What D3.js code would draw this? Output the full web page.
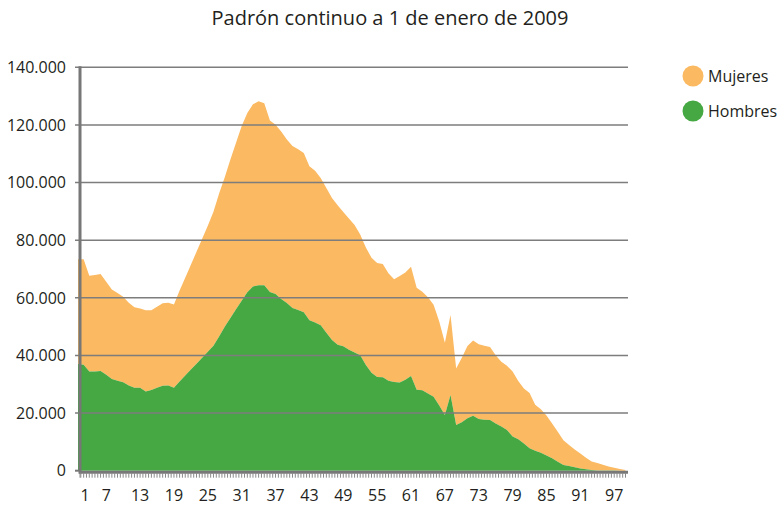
<!DOCTYPE html>
<html>
<head>
<meta charset="utf-8">
<script src="https://cdn.jsdelivr.net/npm/d3@7"></script>
<style>
  body { margin: 0; background: #fff; }
  svg { display: block; font-family: "Open Sans", sans-serif; }
</style>
</head>
<body>
<svg id="chart" width="780" height="505"></svg>
<script>
// Edades (una por punto del área)
const edades = d3.range(2, 100)

// Población en miles
const hombres = [
  37.0, 36.8, 34.4, 34.4, 34.6, 33.3, 31.8, 31.2, 30.7, 29.6,
  28.8, 28.8, 27.5, 28.0, 28.8, 29.5, 29.6, 28.8, 31.0, 33.0,
  35.1, 37.1, 39.2, 41.3, 43.4, 46.6, 50.0, 53.0, 56.0, 59.0,
  61.9, 63.9, 64.4, 64.4, 62.0, 61.3, 59.6, 58.2, 56.5, 55.8,
  55.0, 52.2, 51.4, 50.5, 47.9, 45.4, 43.7, 43.2, 42.0, 41.0,
  40.1, 36.7, 34.0, 32.5, 32.4, 31.2, 30.8, 30.6, 31.6, 32.9,
  28.1, 27.9, 26.8, 25.7, 22.6, 19.3, 26.3, 15.9, 16.8, 18.2,
  19.1, 17.9, 17.7, 17.6, 16.4, 15.3, 14.1, 11.9, 10.9, 9.4,
  7.8, 6.9, 6.2, 5.3, 4.3, 3.1, 2.0, 1.6, 1.2, 0.8,
  0.5, 0.2, 0.1, 0.1, 0.05, 0.03, 0.02, 0
]

const mujeres = [
  36.4, 36.6, 33.3, 33.5, 33.7, 32.3, 31.1, 30.5, 29.7, 28.7,
  27.9, 27.5, 28.2, 27.7, 28.1, 28.6, 28.7, 28.9, 31.5, 34.0,
  36.4, 38.9, 41.3, 43.7, 46.5, 49.6, 51.8, 55.0, 57.8, 60.6,
  62.2, 63.3, 63.8, 63.1, 59.5, 58.8, 58.1, 56.7, 56.2, 55.8,
  55.3, 53.5, 52.7, 51.1, 50.2, 49.2, 48.4, 46.6, 45.5, 44.3,
  41.9, 40.8, 39.9, 39.6, 39.3, 37.3, 35.6, 37.0, 37.2, 37.9,
  35.4, 34.2, 33.4, 31.9, 29.2, 25.1, 27.7, 19.6, 22.4, 25.1,
  26.1, 26.0, 25.7, 25.3, 23.7, 22.5, 22.3, 22.5, 20.2, 19.1,
  19.2, 16.0, 15.1, 13.9, 12.1, 10.4, 8.6, 7.3, 6.2, 5.2,
  4.0, 3.0, 2.6, 2.0, 1.45, 0.97, 0.58, 0.2
]

const etiquetasX = d3.range(1, 98, 6)
const ticksY = [0, 20, 40, 60, 80, 100, 120, 140]

const series = ['Hombres', 'Mujeres']
const colores = {'Hombres': '#45a843', 'Mujeres': '#fbb961'}
const titulo = 'Padrón continuo a 1 de enero de 2009'

let tabla = edades.map(function(e, i){
  return {'edad': e, 'Hombres': hombres[i], 'Mujeres': mujeres[i]}
})

let svg = d3.select('#chart')

let plotLeft = 80, plotRight = 628, plotTop = 67.3, plotBottom = 470.7

let x = d3.scaleLinear()
  .domain([2, 99])
  .range([78, 625.5])

let y = d3.scaleLinear()
  .domain([0, 140])
  .range([plotBottom, plotTop])

let es = d3.formatLocale({'decimal': ',', 'thousands': '.', 'grouping': [3], 'currency': ['', '€']})
let fmt = es.format(',.0f')

let stack = d3.stack().keys(series)
let capas = stack(tabla)

let area = d3.area()
  .x(function(d){ return x(d.data.edad) })
  .y0(function(d){ return y(d[0]) })
  .y1(function(d){ return y(d[1]) })

let plot = svg.append('g')

// Áreas: mujeres apiladas sobre hombres
plot.selectAll('.capa')
  .data(capas.slice().reverse())
  .enter()
  .append('path')
  .attr('class', 'capa')
  .attr('fill', function(d){ return colores[d.key] })
  .attr('d', area)

// Líneas de cuadrícula por encima de las áreas
plot.selectAll('.grid')
  .data(ticksY.filter(function(d){ return d > 0 }))
  .enter()
  .append('line')
  .attr('class', 'grid')
  .attr('x1', plotLeft - 5)
  .attr('x2', plotRight)
  .attr('y1', function(d){ return y(d) })
  .attr('y2', function(d){ return y(d) })
  .attr('stroke', '#7d7d7d')
  .attr('stroke-width', 1.6)

// Eje Y
svg.append('line')
  .attr('x1', plotLeft).attr('x2', plotLeft)
  .attr('y1', plotTop - 1).attr('y2', plotBottom + 3)
  .attr('stroke', '#777')
  .attr('stroke-width', 3)

svg.append('line')
  .attr('x1', plotLeft - 5).attr('x2', plotLeft)
  .attr('y1', plotBottom).attr('y2', plotBottom)
  .attr('stroke', '#777')
  .attr('stroke-width', 2)

svg.selectAll('.ylab')
  .data(ticksY)
  .enter()
  .append('text')
  .attr('class', 'ylab')
  .attr('x', 66)
  .attr('y', function(d){ return y(d) })
  .attr('dy', '0.36em')
  .attr('text-anchor', 'end')
  .attr('font-size', 16)
  .attr('fill', '#231f20')
  .text(function(d){ return fmt(d * 1000) })

// Eje X
svg.append('line')
  .attr('x1', plotLeft - 1).attr('x2', plotRight)
  .attr('y1', plotBottom + 1.5).attr('y2', plotBottom + 1.5)
  .attr('stroke', '#777')
  .attr('stroke-width', 3)

svg.selectAll('.xtick')
  .data(d3.range(2, 99.01, 0.5))
  .enter()
  .append('line')
  .attr('class', 'xtick')
  .attr('x1', function(d){ return Math.max(x(d), plotLeft) })
  .attr('x2', function(d){ return Math.max(x(d), plotLeft) })
  .attr('y1', plotBottom + 2)
  .attr('y2', plotBottom + 7)
  .attr('stroke', '#8a8a8a')
  .attr('stroke-width', 1)

svg.selectAll('.xlab')
  .data(etiquetasX)
  .enter()
  .append('text')
  .attr('class', 'xlab')
  .attr('x', function(d){ return Math.max(x(d), plotLeft + 5) })
  .attr('y', 501)
  .attr('text-anchor', 'middle')
  .attr('font-size', 16)
  .attr('fill', '#231f20')
  .text(function(d){ return d })

// Título
svg.append('text')
  .attr('x', 390)
  .attr('y', 25)
  .attr('text-anchor', 'middle')
  .attr('font-size', 20)
  .attr('fill', '#231f20')
  .text(titulo)

// Leyenda
let leyenda = svg.selectAll('.leyenda')
  .data(['Mujeres', 'Hombres'])
  .enter()
  .append('g')
  .attr('class', 'leyenda')
  .attr('transform', function(d, i){ return 'translate(693,' + (76 + i * 35) + ')' })

leyenda.append('circle')
  .attr('r', 10.5)
  .attr('fill', function(d){ return colores[d] })

leyenda.append('text')
  .attr('x', 15)
  .attr('dy', '0.36em')
  .attr('font-size', 16)
  .attr('fill', '#231f20')
  .text(function(d){ return d })
</script>
</body>
</html>
